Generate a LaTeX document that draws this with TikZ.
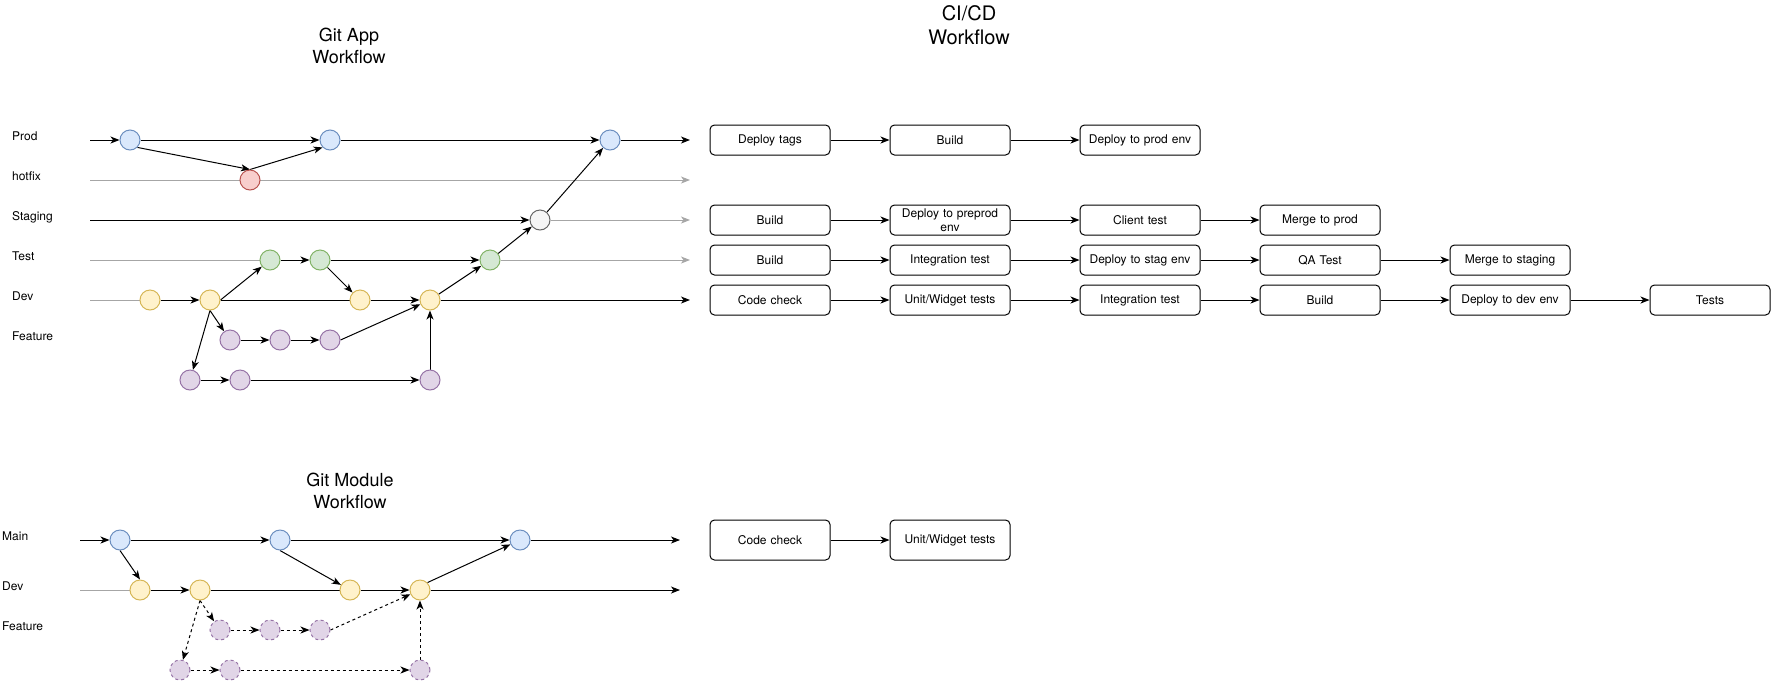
\documentclass[tikz,border=0pt]{standalone}
\usepackage{fontspec}
\setmainfont{TeX Gyre Heros}
\usetikzlibrary{arrows.meta,backgrounds}
\definecolor{bluefill}{HTML}{DAE8FC}\definecolor{bluedraw}{HTML}{6C8EBF}
\definecolor{redfill}{HTML}{F8CECC}\definecolor{reddraw}{HTML}{B85450}
\definecolor{whitefill}{HTML}{F5F5F5}\definecolor{whitedraw}{HTML}{666666}
\definecolor{greenfill}{HTML}{D5E8D4}\definecolor{greendraw}{HTML}{82B366}
\definecolor{yellowfill}{HTML}{FFF2CC}\definecolor{yellowdraw}{HTML}{D6B656}
\definecolor{purplefill}{HTML}{E1D5E7}\definecolor{purpledraw}{HTML}{9673A6}
\definecolor{lanegray}{HTML}{A6A6A6}
\tikzset{
  commit/.style={circle, minimum size=20pt, inner sep=0pt, line width=1pt},
  cblue/.style={commit, fill=bluefill, draw=bluedraw},
  cred/.style={commit, fill=redfill, draw=reddraw},
  cwhite/.style={commit, fill=whitefill, draw=whitedraw},
  cgreen/.style={commit, fill=greenfill, draw=greendraw},
  cyellow/.style={commit, fill=yellowfill, draw=yellowdraw},
  cpurple/.style={commit, fill=purplefill, draw=purpledraw},
  cpurpled/.style={commit, fill=purplefill, draw=purpledraw, dash pattern=on 3pt off 3pt},
  tip/.tip={Stealth[length=9pt,width=7pt,inset=2.5pt]},
  plain/.style={line width=1pt, black},
  arr/.style={plain, -tip},
  darr/.style={arr, dash pattern=on 3pt off 3pt},
  gline/.style={line width=1pt, lanegray},
  garr/.style={gline, -tip},
  stepbox/.style={draw, line width=1pt, rounded corners=4.5pt, minimum width=120pt,
    minimum height=30pt, inner sep=0pt, text width=112pt, align=center,
    font=\fontsize{12}{13.5}\selectfont},
  tallbox/.style={stepbox, minimum height=40pt},
  lane/.style={anchor=base west, inner sep=0pt, font=\fontsize{12}{14}\selectfont},
  title/.style={align=center, inner sep=0pt, font=\fontsize{18}{21.6}\selectfont},
}
\begin{document}
\begin{tikzpicture}[x=1pt,y=-1pt]
\useasboundingbox (0,0) rectangle (1771,681);

% titles
\node[title] (tApp) at (349,46) {Git App\\Workflow};
\node[title, font=\fontsize{20}{24}\selectfont] (tCI) at (969,25) {CI/CD\\Workflow};
\node[title] (tMod) at (350,491) {Git Module\\Workflow};

% lane labels (app)
\node[lane] (lProd) at (12,140.3) {Prod};
\node[lane] (lHot) at (12,180.3) {hotfix};
\node[lane] (lStag) at (12,220.3) {Staging};
\node[lane] (lTest) at (12,260.3) {Test};
\node[lane] (lDev) at (12,300.3) {Dev};
\node[lane] (lFeat) at (12,340.3) {Feature};
% lane labels (module)
\node[lane] (lMain) at (2,540.3) {Main};
\node[lane] (lMDev) at (2,590.3) {Dev};
\node[lane] (lMFeat) at (2,630.3) {Feature};

% app commits
\node[cblue] (c1) at (130,140) {};
\node[cblue] (c2) at (330,140) {};
\node[cblue] (c3) at (610,140) {};
\node[cred] (hf) at (250,180) {};
\node[cwhite] (st) at (540,220) {};
\node[cgreen] (t1) at (270,260) {};
\node[cgreen] (t2) at (320,260) {};
\node[cgreen] (t3) at (490,260) {};
\node[cyellow] (d1) at (150,300) {};
\node[cyellow] (d2) at (210,300) {};
\node[cyellow] (d3) at (360,300) {};
\node[cyellow] (d4) at (430,300) {};
\node[cpurple] (f1) at (230,340) {};
\node[cpurple] (f2) at (280,340) {};
\node[cpurple] (f3) at (330,340) {};
\node[cpurple] (g1) at (190,380) {};
\node[cpurple] (g2) at (240,380) {};
\node[cpurple] (g3) at (430,380) {};

\coordinate (pS) at (90,140); \coordinate (pE) at (690,140);
\coordinate (hS) at (90,180); \coordinate (hE) at (690,180);
\coordinate (sS) at (90,220); \coordinate (sE) at (690,220);
\coordinate (tS) at (90,260); \coordinate (tE) at (690,260);
\coordinate (dS) at (90,300); \coordinate (dE) at (690,300);

% module commits
\node[cblue] (m1) at (120,540) {};
\node[cblue] (m2) at (280,540) {};
\node[cblue] (m3) at (520,540) {};
\node[cyellow] (e1) at (140,590) {};
\node[cyellow] (e2) at (200,590) {};
\node[cyellow] (e3) at (350,590) {};
\node[cyellow] (e4) at (420,590) {};
\node[cpurpled] (h1) at (220,630) {};
\node[cpurpled] (h2) at (270,630) {};
\node[cpurpled] (h3) at (320,630) {};
\node[cpurpled] (k1) at (180,670) {};
\node[cpurpled] (k2) at (230,670) {};
\node[cpurpled] (k3) at (420,670) {};

\coordinate (mS) at (80,540); \coordinate (mE) at (680,540);
\coordinate (eS) at (80,590); \coordinate (eE) at (680,590);

% CI/CD boxes
\node[stepbox] (p1) at (770,140) {Deploy tags};
\node[stepbox] (p2) at (950,140) {Build};
\node[stepbox] (p3) at (1140,140) {Deploy to prod env};

\node[stepbox] (s1) at (770,220) {Build};
\node[stepbox] (s2) at (950,220) {Deploy to preprod\\env};
\node[stepbox] (s3) at (1140,220) {Client test};
\node[stepbox] (s4) at (1320,220) {Merge to prod};

\node[stepbox] (q1) at (770,260) {Build};
\node[stepbox] (q2) at (950,260) {Integration test};
\node[stepbox] (q3) at (1140,260) {Deploy to stag env};
\node[stepbox] (q4) at (1320,260) {QA Test};
\node[stepbox] (q5) at (1510,260) {Merge to staging};

\node[stepbox] (v1) at (770,300) {Code check};
\node[stepbox] (v2) at (950,300) {Unit/Widget tests};
\node[stepbox] (v3) at (1140,300) {Integration test};
\node[stepbox] (v4) at (1320,300) {Build};
\node[stepbox] (v5) at (1510,300) {Deploy to dev env};
\node[stepbox] (v6) at (1710,300) {Tests};

\node[tallbox] (w1) at (770,540) {Code check};
\node[tallbox] (w2) at (950,540) {Unit/Widget tests};

\draw[arr] (p1) -- (p2); \draw[arr] (p2) -- (p3);
\draw[arr] (s1) -- (s2); \draw[arr] (s2) -- (s3); \draw[arr] (s3) -- (s4);
\draw[arr] (q1) -- (q2); \draw[arr] (q2) -- (q3); \draw[arr] (q3) -- (q4); \draw[arr] (q4) -- (q5);
\draw[arr] (v1) -- (v2); \draw[arr] (v2) -- (v3); \draw[arr] (v3) -- (v4); \draw[arr] (v4) -- (v5); \draw[arr] (v5) -- (v6);
\draw[arr] (w1) -- (w2);

\begin{pgfonlayer}{background}
% app: prod
\draw[arr] (pS) -- (c1);
\draw[arr] (c1) -- (c2);
\draw[arr] (c2) -- (c3);
\draw[arr] (c3) -- (pE);
% hotfix
\draw[garr] (hS) -- (hE);
\draw[arr] (c1.south east) -- (hf.north);
\draw[arr] (hf.north) -- (c2.south west);
% staging
\draw[arr] (sS) -- (st);
\draw[garr] (st) -- (sE);
\draw[arr] (st) -- (c3);
% test
\draw[gline] (tS) -- (t1);
\draw[arr] (t1) -- (t2);
\draw[arr] (t2) -- (t3);
\draw[garr] (t3) -- (tE);
\draw[arr] (t3) -- (st);
% dev
\draw[gline] (dS) -- (d1);
\draw[arr] (d1) -- (d2);
\draw[plain] (d2) -- (d3);
\draw[arr] (d3) -- (d4);
\draw[arr] (d4) -- (dE);
\draw[arr] (d2.east) -- (t1);
\draw[arr] (t2) -- (d3);
\draw[arr] (d4) -- (t3);
% features
\draw[arr] (d2.south) -- (f1);
\draw[arr] (f1) -- (f2);
\draw[arr] (f2) -- (f3);
\draw[arr] (f3.east) -- (d4);
\draw[arr] (d2.south) -- (g1);
\draw[arr] (g1) -- (g2);
\draw[arr] (g2) -- (g3);
\draw[arr] (g3) -- (d4);

% module: main
\draw[arr] (mS) -- (m1);
\draw[arr] (m1) -- (m2);
\draw[arr] (m2) -- (m3);
\draw[arr] (m3) -- (mE);
% module: dev
\draw[gline] (eS) -- (e1);
\draw[arr] (e1) -- (e2);
\draw[plain] (e2) -- (e3);
\draw[arr] (e3) -- (e4);
\draw[arr] (e4) -- (eE);
\draw[arr] (m1.south) -- (e1.north);
\draw[arr] (m2.south) -- (e3);
\draw[arr] (e4.north east) -- (m3);
% module: features
\draw[darr] (e2.south) -- (h1);
\draw[darr] (h1) -- (h2);
\draw[darr] (h2) -- (h3);
\draw[darr] (h3.east) -- (e4);
\draw[darr] (e2.south) -- (k1);
\draw[darr] (k1) -- (k2);
\draw[darr] (k2) -- (k3);
\draw[darr] (k3) -- (e4);
\end{pgfonlayer}
\end{tikzpicture}
\end{document}
